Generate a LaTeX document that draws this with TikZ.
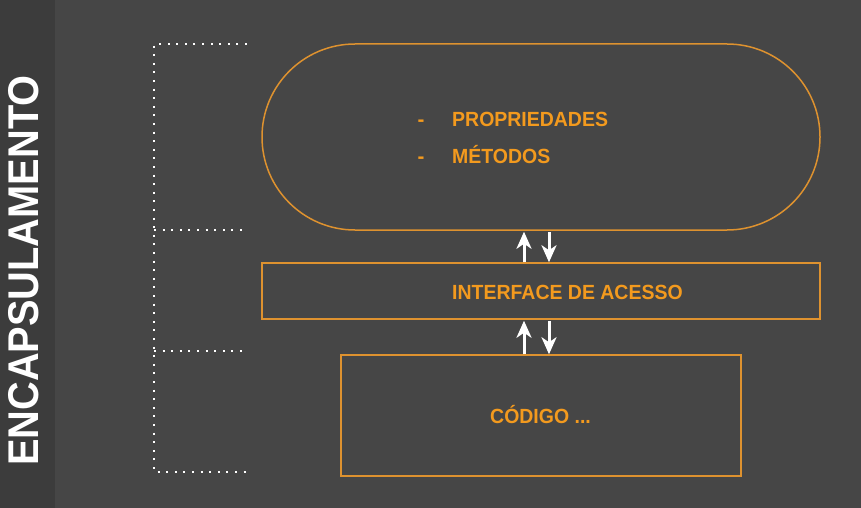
\documentclass[tikz,border=0pt]{standalone}
\usepackage{fontspec}
\setmainfont{Liberation Sans}
\usepackage{graphicx}
\usetikzlibrary{shapes.misc,arrows.meta}
\definecolor{fundo}{HTML}{464646}
\definecolor{faixa}{HTML}{3C3C3C}
\definecolor{laranja}{HTML}{F39A1E}
\definecolor{contorno}{HTML}{DE922F}
\newcommand{\estreito}[1]{\scalebox{0.95}[1]{#1}}
\tikzset{
  caixa/.style={draw=contorno, line width=1.5pt, inner sep=0pt},
  rotulo/.style={text=laranja, inner sep=0pt, font=\bfseries\fontsize{20.5}{24}\selectfont},
  pontos/.style={draw=white, line width=2pt, dash pattern=on 2pt off 6.6pt},
  seta/.style={draw=white, line width=3pt, -{Stealth[length=17pt,width=15pt,inset=5pt]}}
}

\begin{document}
\begin{tikzpicture}[x=1pt,y=-1pt]
  \fill[fundo] (0,0) rectangle (861,508);
  \useasboundingbox (0,0) rectangle (861,508);
  \fill[faixa] (0,0) rectangle (55,508);

  % titulo lateral
  \node[text=white, inner sep=0pt, rotate=90, anchor=base west,
        font=\bfseries\fontsize{43}{48}\selectfont] (titulo) at (38,466)
        {\scalebox{0.925}[1]{ENCAPSULAMENTO}};

  % chave pontilhada
  \draw[pontos] (247,44) -- (154,44) -- (154,472) -- (247,472);
  \draw[pontos] (154,230) -- (247,230);
  \draw[pontos] (154,351) -- (247,351);

  % camadas
  \node[caixa, rounded rectangle, minimum width=558pt, minimum height=186pt] (objeto) at (541,137) {};
  \node[caixa, minimum width=558pt, minimum height=56pt] (interface) at (541,291) {};
  \node[caixa, minimum width=400pt, minimum height=121pt] (codigo) at (541,415.5) {};

  \node[rotulo, anchor=base] (traco1) at (421,126) {-};
  \node[rotulo, anchor=base west] (prop) at (452,126) {\estreito{PROPRIEDADES}};
  \node[rotulo, anchor=base] (traco2) at (421,163) {-};
  \node[rotulo, anchor=base west] (metodos) at (452,163) {\estreito{MÉTODOS}};
  \node[rotulo, anchor=base west] (acesso) at (452,299) {\estreito{INTERFACE DE ACESSO}};
  \node[rotulo, anchor=base west] (cod) at (490,423) {\estreito{CÓDIGO ...}};

  % setas
  \draw[seta] ([xshift=-17pt]interface.north) -- ([xshift=-17pt,yshift=-1pt]objeto.south);
  \draw[seta] ([xshift=8pt,yshift=-1pt]objeto.south) -- ([xshift=8pt]interface.north);
  \draw[seta] ([xshift=-17pt]codigo.north) -- ([xshift=-17pt,yshift=-1pt]interface.south);
  \draw[seta] ([xshift=8pt,yshift=-1pt]interface.south) -- ([xshift=8pt]codigo.north);
\end{tikzpicture}
\end{document}
